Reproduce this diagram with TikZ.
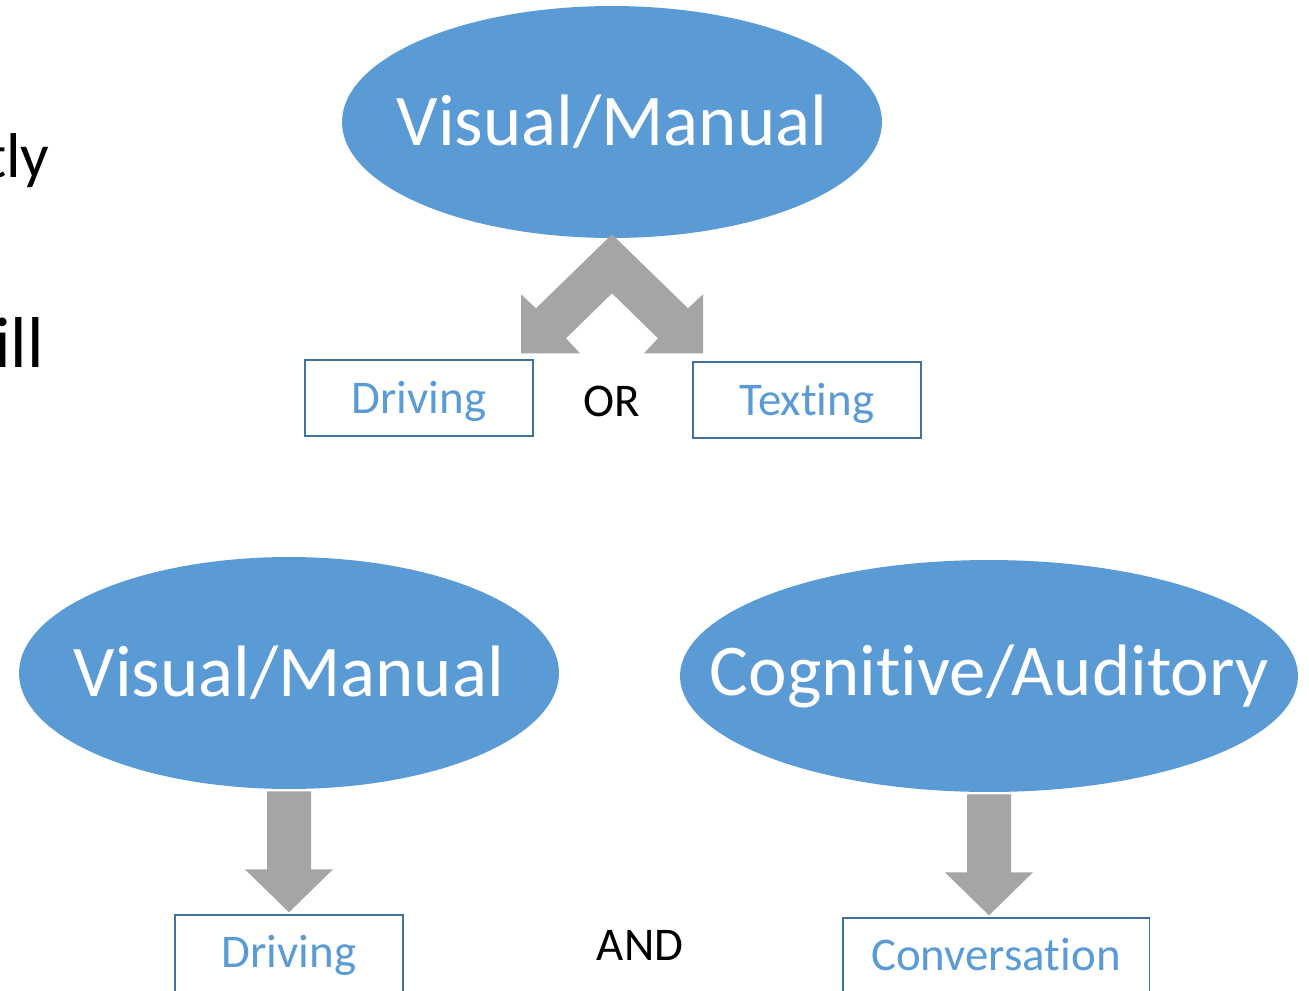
\documentclass[tikz,border=0pt]{standalone}
\usepackage{fontspec}
\setmainfont{Carlito}[Ligatures=NoCommon]
\usepackage{xcolor}
\usetikzlibrary{shapes.geometric}
\definecolor{accentblue}{HTML}{5B9BD5}
\definecolor{boxline}{HTML}{41719C}
\definecolor{arrowgray}{HTML}{A5A5A5}
% straight block arrow hanging below a node
\newcommand{\downblock}[1]{\fill[arrowgray,shift={(#1.south)}] (-22,2)--(-22,80)--(-44,80)--(0,123)--(44,80)--(22,80)--(22,2)--cycle;}

\begin{document}
\begin{tikzpicture}[x=0.02cm,y=-0.02cm,
  blob/.style={ellipse,fill=accentblue,text=white,inner xsep=-1.5cm,inner ysep=0pt,minimum height=4.64cm,font=\fontsize{41.5}{48}\selectfont},
  tag/.style={draw=boxline,line width=1.1pt,text=accentblue,minimum width=4.56cm,minimum height=1.52cm,inner sep=0pt,text height=0.6cm,text depth=0pt,font=\fontsize{26.7}{32}\selectfont},
  word/.style={inner sep=0pt,font=\fontsize{26.7}{32}\selectfont}]
\useasboundingbox (0,0) rectangle (1309,991);
\clip (0,0) rectangle (1309,991);
% cut-off words at the left edge
\node[anchor=base east,inner sep=0pt,font=\fontsize{36}{40}\selectfont] (tly) at (50,177) {tly};
\node[anchor=base east,inner sep=0pt,font=\fontsize{41}{46}\selectfont] (ill) at (44,367) {ill};
% top: either one
\node[blob,minimum width=10.8cm] (vmt) at (612,122) {Visual/Manual};
\node[tag] (drt) at (419,398) {Driving};
\node[word] (or) at (612,401) {OR};
\node[tag] (txt) at (807,400) {Texting};
\fill[arrowgray,shift={(vmt.south)}] (0,-4)--(-76,70)--(-91,56)--(-91,115)--(-32,115)--(-46,100)--(0,55)--(46,100)--(32,115)--(91,115)--(91,56)--(76,70)--cycle;
% bottom: both at once
\node[blob,minimum width=10.8cm] (vmb) at (289,673) {Visual/Manual};
\node[blob,minimum width=12.36cm] (cog) at (989,676) {Cognitive/Auditory};
\node[tag,minimum height=1.6cm,text height=0.5cm] (drb) at (289,955) {Driving};
\node[word] (and) at (640,945) {AND};
\node[tag,minimum width=6.14cm,minimum height=1.6cm,text height=0.5cm] (conv) at (996,958) {Conversation};
\downblock{vmb}
\downblock{cog}
\end{tikzpicture}
\end{document}
